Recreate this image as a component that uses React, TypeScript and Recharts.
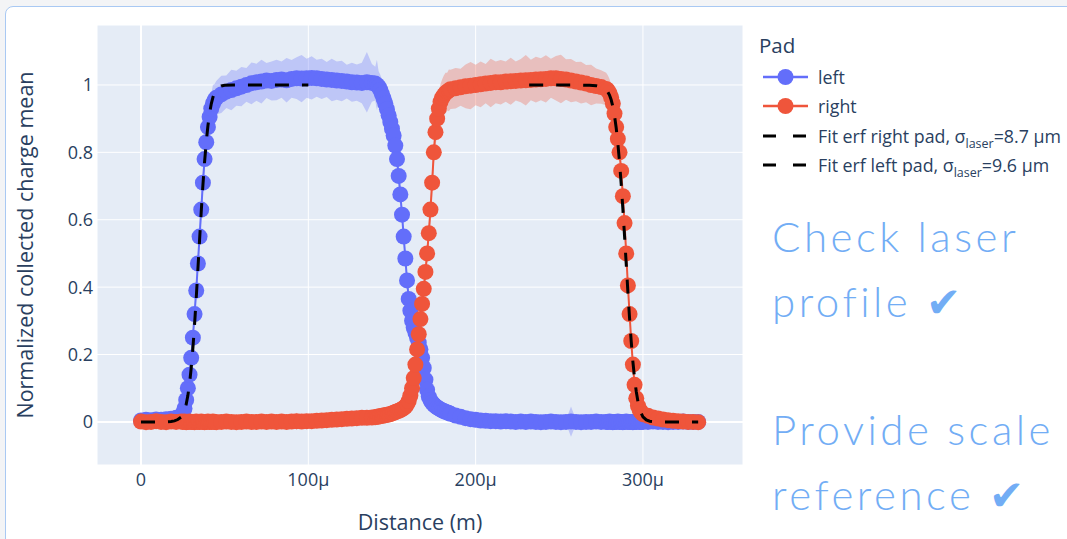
import { Area, CartesianGrid, ComposedChart, Line, XAxis, YAxis } from "recharts";

// distance along the scan, in µm
const X = [
  0, 3, 6, 9, 12, 15, 18, 21, 24,
  25, 26, 27, 28, 29, 30, 31, 32, 33, 34, 35, 36, 37, 38, 39, 40, 41, 42, 43, 44, 45,
  48, 51, 54, 57, 60, 63, 66, 69, 72, 75, 78, 81, 84, 87, 90, 93, 96, 99, 102, 105, 108, 111, 114, 117, 120, 123, 126, 129, 132, 135, 138,
  140, 141, 142, 143, 144, 145, 146, 147, 148, 149,
  150, 151, 152, 153, 154, 155, 156, 157, 158, 159,
  160, 161, 162, 163, 164, 165, 166, 167, 168, 169,
  170, 171, 172, 173, 174, 175, 176, 177, 178, 179,
  180, 181, 182, 183, 184, 185,
  188, 191, 194, 197, 200, 203, 206, 209, 212, 215, 218, 221, 224, 227, 230, 233, 236, 239, 242, 245, 248, 251, 254, 257, 260, 263, 266, 269, 272, 275, 278,
  279, 280, 281, 282, 283, 284, 285, 286, 287, 288,
  289, 290, 291, 292, 293, 294, 295, 296, 297, 298,
  299, 300,
  303, 306, 309, 312, 315, 318, 321, 324, 327, 330, 333,
];

const LEFT = [
  0.004, 0.006, 0.005, 0.007, 0.006, 0.008, 0.009, 0.012, 0.018,
  0.025, 0.04, 0.065, 0.1, 0.14, 0.19, 0.25, 0.32, 0.39, 0.47, 0.55, 0.63, 0.71, 0.78, 0.83, 0.875, 0.905, 0.93, 0.945, 0.955, 0.962,
  0.972, 0.98, 0.985, 0.99, 0.995, 1.0, 1.005, 1.008, 1.01, 1.013, 1.012, 1.015, 1.016, 1.014, 1.018, 1.02, 1.019, 1.02, 1.021, 1.02, 1.018, 1.016, 1.015, 1.013, 1.012, 1.01, 1.008, 1.007, 1.006, 1.008, 1.006,
  1.004, 1.0, 0.995, 0.985, 0.973, 0.96, 0.945, 0.928, 0.91, 0.89,
  0.87, 0.85, 0.82, 0.78, 0.73, 0.675, 0.615, 0.55, 0.485, 0.42,
  0.365, 0.33, 0.3, 0.28, 0.265, 0.25, 0.235, 0.215, 0.19, 0.16,
  0.125, 0.095, 0.075, 0.064, 0.057, 0.051, 0.047, 0.043, 0.04, 0.037,
  0.034, 0.032, 0.03, 0.028, 0.026, 0.024,
  0.019, 0.015, 0.011, 0.008, 0.006, 0.004, 0.003, 0.002, 0.002, 0.001, 0.002, 0.001, 0.0, 0.001, 0.0, 0.001, 0.0, -0.001, 0.0, 0.001, 0.0, -0.001, 0.0, 0.001, 0.0, -0.001, 0.0, 0.0, 0.001, 0.0, 0.0,
  0.0, 0.001, 0.0, -0.001, 0.0, 0.0, 0.001, 0.0, 0.0, -0.001,
  0.0, 0.001, 0.0, 0.0, 0.0, -0.001, 0.0, 0.0, 0.001, 0.0,
  0.0, 0.0,
  0.0, 0.001, 0.0, 0.0, -0.001, 0.0, 0.0, 0.001, 0.0, 0.0, 0.0,
];

const RIGHT = [
  0.001, -0.001, 0.0, 0.002, 0.0, -0.001, 0.001, 0.0, 0.001,
  0.0, 0.001, -0.001, 0.0, 0.001, 0.0, 0.0, -0.001, 0.001, 0.0, 0.0, 0.001, 0.0, -0.001, 0.0, 0.001, 0.0, 0.0, 0.001, 0.0, -0.001,
  0.0, 0.001, 0.0, -0.001, 0.0, 0.001, 0.0, 0.0, 0.001, 0.0, 0.001, 0.0, 0.001, 0.0, 0.001, 0.002, 0.001, 0.002, 0.002, 0.003, 0.004, 0.005, 0.006, 0.007, 0.008, 0.009, 0.01, 0.011, 0.012, 0.012, 0.013,
  0.014, 0.015, 0.016, 0.017, 0.018, 0.019, 0.02, 0.021, 0.022, 0.023,
  0.025, 0.027, 0.029, 0.031, 0.033, 0.035, 0.038, 0.041, 0.045, 0.052,
  0.062, 0.078, 0.1, 0.13, 0.17, 0.215, 0.26, 0.305, 0.35, 0.395,
  0.445, 0.5, 0.56, 0.63, 0.71, 0.8, 0.86, 0.9, 0.93, 0.95,
  0.962, 0.97, 0.976, 0.98, 0.984, 0.987,
  0.99, 0.993, 0.996, 0.998, 1.0, 1.002, 1.004, 1.006, 1.008, 1.008, 1.01, 1.011, 1.012, 1.013, 1.014, 1.015, 1.016, 1.017, 1.018, 1.02, 1.02, 1.018, 1.016, 1.013, 1.01, 1.007, 1.004, 1.0, 0.997, 0.994, 0.988,
  0.984, 0.976, 0.963, 0.945, 0.915, 0.875, 0.84, 0.8, 0.745, 0.67,
  0.59, 0.5, 0.405, 0.32, 0.24, 0.17, 0.11, 0.07, 0.048, 0.036,
  0.028, 0.023,
  0.018, 0.013, 0.01, 0.007, 0.005, 0.003, 0.002, 0.001, 0.0, 0.0, -0.001,
];

// standard deviation shown as the shaded band
const LEFT_ERR = [
  0.004, 0.005, 0.004, 0.006, 0.005, 0.004, 0.006, 0.008, 0.01,
  0.012, 0.014, 0.016, 0.018, 0.02, 0.022, 0.024, 0.026, 0.028, 0.03, 0.032, 0.034, 0.036, 0.038, 0.04, 0.042, 0.05, 0.045, 0.055, 0.048, 0.05,
  0.055, 0.048, 0.06, 0.052, 0.058, 0.05, 0.062, 0.055, 0.065, 0.052, 0.058, 0.06, 0.054, 0.066, 0.056, 0.062, 0.07, 0.058, 0.064, 0.055, 0.06, 0.052, 0.063, 0.057, 0.06, 0.05, 0.058, 0.054, 0.06, 0.09, 0.056,
  0.05, 0.075, 0.046, 0.045, 0.044, 0.042, 0.04, 0.04, 0.038, 0.036,
  0.035, 0.034, 0.032, 0.03, 0.03, 0.028, 0.026, 0.025, 0.024, 0.022,
  0.02, 0.02, 0.019, 0.018, 0.017, 0.016, 0.015, 0.014, 0.013, 0.012,
  0.011, 0.01, 0.01, 0.009, 0.009, 0.008, 0.008, 0.008, 0.007, 0.007,
  0.007, 0.006, 0.006, 0.006, 0.006, 0.006,
  0.006, 0.005, 0.006, 0.005, 0.005, 0.015, 0.005, 0.006, 0.005, 0.005, 0.006, 0.005, 0.006, 0.005, 0.006, 0.005, 0.02, 0.006, 0.005, 0.005, 0.006, 0.005, 0.005, 0.045, 0.006, 0.005, 0.005, 0.006, 0.005, 0.005, 0.005,
  0.005, 0.006, 0.005, 0.005, 0.006, 0.005, 0.005, 0.006, 0.005, 0.005,
  0.006, 0.005, 0.005, 0.006, 0.005, 0.005, 0.006, 0.005, 0.005, 0.006,
  0.005, 0.005,
  0.005, 0.006, 0.005, 0.005, 0.006, 0.005, 0.005, 0.005, 0.006, 0.005, 0.005,
];

const RIGHT_ERR = [
  0.006, 0.005, 0.007, 0.006, 0.005, 0.008, 0.006, 0.012, 0.02,
  0.008, 0.006, 0.007, 0.006, 0.005, 0.006, 0.007, 0.006, 0.005, 0.006, 0.007, 0.006, 0.005, 0.006, 0.006, 0.007, 0.006, 0.005, 0.006, 0.007, 0.006,
  0.006, 0.007, 0.006, 0.008, 0.006, 0.007, 0.006, 0.007, 0.006, 0.008, 0.007, 0.006, 0.008, 0.007, 0.01, 0.025, 0.008, 0.007, 0.008, 0.007, 0.008, 0.009, 0.008, 0.009, 0.01, 0.009, 0.01, 0.011, 0.01, 0.011, 0.012,
  0.012, 0.012, 0.013, 0.012, 0.013, 0.012, 0.013, 0.013, 0.014, 0.013,
  0.014, 0.014, 0.015, 0.014, 0.015, 0.016, 0.015, 0.016, 0.017, 0.018,
  0.019, 0.02, 0.021, 0.022, 0.023, 0.024, 0.025, 0.026, 0.027, 0.028,
  0.03, 0.032, 0.034, 0.036, 0.038, 0.04, 0.043, 0.046, 0.05, 0.052,
  0.055, 0.058, 0.06, 0.056, 0.062, 0.058,
  0.06, 0.055, 0.065, 0.07, 0.06, 0.068, 0.058, 0.072, 0.062, 0.066, 0.06, 0.07, 0.058, 0.064, 0.075, 0.06, 0.068, 0.062, 0.07, 0.058, 0.066, 0.072, 0.06, 0.064, 0.058, 0.062, 0.055, 0.06, 0.052, 0.05, 0.048,
  0.045, 0.042, 0.04, 0.038, 0.036, 0.034, 0.032, 0.03, 0.028, 0.026,
  0.024, 0.022, 0.02, 0.018, 0.016, 0.014, 0.012, 0.01, 0.009, 0.008,
  0.008, 0.007,
  0.007, 0.006, 0.006, 0.005, 0.006, 0.005, 0.005, 0.006, 0.005, 0.005, 0.005,
];

const FIT_LEFT_X = [
  0, 5, 10, 15, 18, 20, 22, 24,
  25, 26, 27, 28, 29, 30, 31, 32, 33, 34, 35, 36, 37, 38, 39, 40, 41, 42, 43, 44, 45, 46,
  48, 50, 55, 60, 70, 80, 90, 100,
];
const FIT_LEFT_Y = [
  0, 0, 0, 0, 0.001, 0.003, 0.007, 0.014,
  0.022, 0.034, 0.052, 0.078, 0.113, 0.16, 0.218, 0.288, 0.367, 0.453, 0.54, 0.625, 0.703, 0.772, 0.831, 0.879, 0.916, 0.944, 0.964, 0.977, 0.986, 0.992,
  0.997, 0.999, 1, 1, 1, 1, 1, 1,
];

const FIT_RIGHT_X = [
  232, 240, 250, 260, 268, 272, 275, 278,
  279, 280, 281, 282, 283, 284, 285, 286, 287, 288, 289, 290, 291, 292, 293, 294, 295, 296, 297, 298, 299, 300,
  302, 304, 306, 310, 320, 333,
];
const FIT_RIGHT_Y = [
  1, 1, 1, 1, 0.999, 0.998, 0.995, 0.985,
  0.979, 0.97, 0.956, 0.936, 0.909, 0.873, 0.827, 0.771, 0.706, 0.632, 0.552, 0.469, 0.386, 0.308, 0.238, 0.178, 0.129, 0.09, 0.061, 0.04, 0.025, 0.015,
  0.006, 0.002, 0.001, 0, 0, 0,
];

const X_TICKS = [0, 100, 200, 300];
const Y_TICKS = [0, 0.2, 0.4, 0.6, 0.8, 1];

const BLUE = "#636efa";
const RED = "#ef553b";
const INK = "#2a3f5f";
const FONT = '"Open Sans", sans-serif';
const NOTE = "#72adf5";

const rows = X.map((x, i) => ({
  x,
  left: LEFT[i],
  right: RIGHT[i],
  leftBand: [LEFT[i] - LEFT_ERR[i], LEFT[i] + LEFT_ERR[i]],
  rightBand: [RIGHT[i] - RIGHT_ERR[i], RIGHT[i] + RIGHT_ERR[i]],
}));
const fitLeft = FIT_LEFT_X.map((x, i) => ({ x, fit: FIT_LEFT_Y[i] }));
const fitRight = FIT_RIGHT_X.map((x, i) => ({ x, fit: FIT_RIGHT_Y[i] }));

function YTitle({ viewBox }: any) {
  const cx = viewBox.x - 13;
  const cy = viewBox.y + viewBox.height / 2;
  return (
    <text
      x={cx}
      y={cy}
      transform={`rotate(-90 ${cx} ${cy})`}
      textAnchor="middle"
      dominantBaseline="central"
      fill={INK}
      fontSize={21.5}
      fontFamily={FONT}
    >
      Normalized collected charge mean
    </text>
  );
}

function XTitle({ viewBox }: any) {
  return (
    <text
      x={viewBox.x + viewBox.width / 2}
      y={viewBox.y + viewBox.height + 25}
      textAnchor="middle"
      fill={INK}
      fontSize={21.5}
      fontFamily={FONT}
    >
      Distance (m)
    </text>
  );
}

function Overlay() {
  const rowY = [77, 106, 136, 165];
  const sub = (s: string) => (
    <>
      Fit erf {s} pad, σ
      <tspan fontSize={12.5} dy={5}>laser</tspan>
      <tspan dy={-5}>={s === "right" ? "8.7" : "9.6"} μm</tspan>
    </>
  );
  return (
    <svg
      width={1067}
      height={539}
      style={{ position: "absolute", left: 0, top: 0, pointerEvents: "none" }}
    >
      <g fontFamily={FONT} fill={INK} fontSize={17.8}>
        <text x={759} y={53} fontSize={20.5}>Pad</text>
        <line x1={763} x2={808} y1={rowY[0]} y2={rowY[0]} stroke={BLUE} strokeWidth={2.5} />
        <circle cx={785.5} cy={rowY[0]} r={8} fill={BLUE} />
        <text x={818} y={rowY[0] + 7}>left</text>
        <line x1={763} x2={808} y1={rowY[1]} y2={rowY[1]} stroke={RED} strokeWidth={2.5} />
        <circle cx={785.5} cy={rowY[1]} r={8} fill={RED} />
        <text x={818} y={rowY[1] + 7}>right</text>
        <line x1={763} x2={808} y1={rowY[2]} y2={rowY[2]} stroke="#000" strokeWidth={3} strokeDasharray="13 17" />
        <text x={818} y={rowY[2] + 7}>{sub("right")}</text>
        <line x1={763} x2={808} y1={rowY[3]} y2={rowY[3]} stroke="#000" strokeWidth={3} strokeDasharray="13 17" />
        <text x={818} y={rowY[3] + 7}>{sub("left")}</text>
      </g>
      <g fontFamily="Lato, sans-serif" fontWeight={300} fill={NOTE} fontSize={42} letterSpacing={3.5}>
        <text x={772} y={252}>Check laser</text>
        <text x={772} y={317}>profile ✔</text>
        <text x={772} y={445}>Provide scale</text>
        <text x={772} y={510}>reference ✔</text>
      </g>
    </svg>
  );
}

export default function App() {
  return (
    <div
      style={{
        position: "fixed",
        left: 0,
        top: 0,
        width: 1067,
        height: 539,
        overflow: "hidden",
        background: "#f3f4f6",
      }}
    >
      <div
        style={{
          position: "absolute",
          left: 5,
          top: 6,
          width: 1120,
          height: 600,
          border: "1.5px solid #a9c9f3",
          borderRadius: 8,
          background: "#fff",
        }}
      />
      <div style={{ position: "absolute", left: 0, top: 0 }}>
        <ComposedChart
          width={1067}
          height={539}
          data={rows}
          margin={{ top: 25, right: 324, bottom: 34, left: 37 }}
          style={{ fontFamily: FONT }}
        >
          <CartesianGrid fill="#e5ecf6" stroke="#fff" strokeWidth={1} />
          <CartesianGrid horizontalValues={[0]} verticalValues={[0]} stroke="#fff" strokeWidth={2} />
          <XAxis
            dataKey="x"
            type="number"
            domain={[-26.3, 359.8]}
            allowDataOverflow
            ticks={X_TICKS}
            tickFormatter={(v) => (v === 0 ? "0" : `${v}μ`)}
            axisLine={false}
            tickLine={false}
            tickSize={0}
            tickMargin={8}
            height={40}
            tick={{ fill: INK, fontSize: 18 }}
            label={<XTitle />}
          />
          <YAxis
            type="number"
            domain={[-0.128, 1.178]}
            allowDataOverflow
            ticks={Y_TICKS}
            tickFormatter={(v) => String(v)}
            axisLine={false}
            tickLine={false}
            tickSize={0}
            tickMargin={4}
            width={60}
            tick={{ fill: INK, fontSize: 18 }}
            label={<YTitle />}
          />
          <Area
            type="linear"
            dataKey="leftBand"
            stroke="none"
            fill="rgba(99,110,250,0.3)"
            fillOpacity={1}
            dot={false}
            activeDot={false}
            isAnimationActive={false}
          />
          <Line
            type="linear"
            dataKey="left"
            stroke={BLUE}
            strokeWidth={2}
            dot={{ r: 8, fill: BLUE, stroke: "none" }}
            activeDot={false}
            isAnimationActive={false}
          />
          <Area
            type="linear"
            dataKey="rightBand"
            stroke="none"
            fill="rgba(239,85,59,0.3)"
            fillOpacity={1}
            dot={false}
            activeDot={false}
            isAnimationActive={false}
          />
          <Line
            type="linear"
            dataKey="right"
            stroke={RED}
            strokeWidth={2}
            dot={{ r: 8, fill: RED, stroke: "none" }}
            activeDot={false}
            isAnimationActive={false}
          />
          <Line
            data={fitRight}
            type="linear"
            dataKey="fit"
            stroke="#000"
            strokeWidth={3}
            strokeDasharray="14 13"
            dot={false}
            activeDot={false}
            isAnimationActive={false}
            zIndex={2500}
          />
          <Line
            data={fitLeft}
            type="linear"
            dataKey="fit"
            stroke="#000"
            strokeWidth={3}
            strokeDasharray="14 13"
            dot={false}
            activeDot={false}
            isAnimationActive={false}
            zIndex={2500}
          />
        </ComposedChart>
      </div>
      <Overlay />
    </div>
  );
}
